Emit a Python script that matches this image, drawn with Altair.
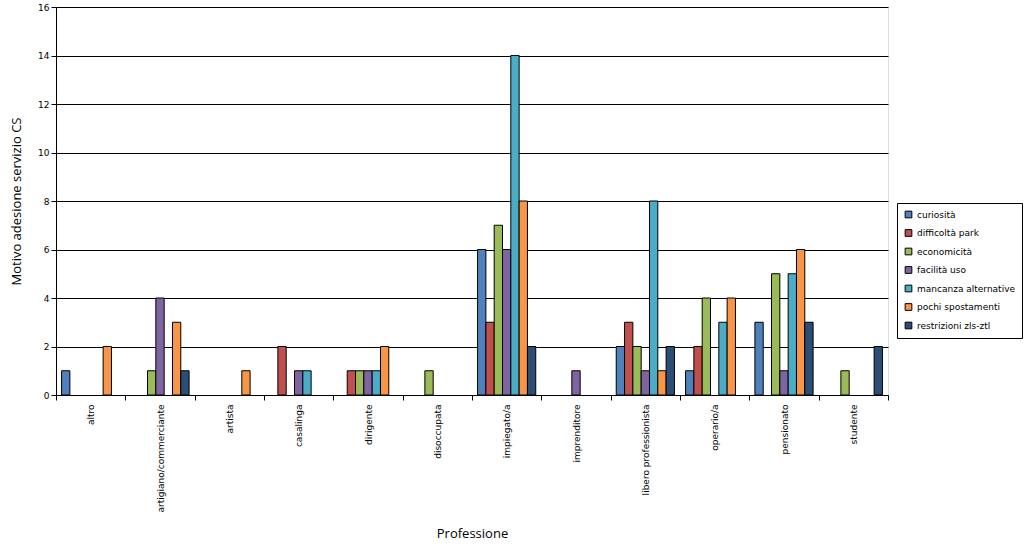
import altair as alt
import pandas as pd

professioni = ["altro", "artigiano/commerciante", "artista", "casalinga", "dirigente",
               "disoccupata", "impiegato/a", "imprenditore", "libero professionista",
               "operario/a", "pensionato", "studente"]
motivi = ["curiosità", "difficoltà park", "economicità", "facilità uso",
          "mancanza alternative", "pochi spostamenti", "restrizioni zls-ztl"]
colori = ["#4F81BD", "#C0504D", "#9BBB59", "#8064A2", "#4BACC6", "#F79646", "#2C4D75"]

curiosita = [1, 0, 0, 0, 0, 0, 6, 0, 2, 1, 3, 0]
difficolta_park = [0, 0, 0, 2, 1, 0, 3, 0, 3, 2, 0, 0]
economicita = [0, 1, 0, 0, 1, 1, 7, 0, 2, 4, 5, 1]
facilita_uso = [0, 4, 0, 1, 1, 0, 6, 1, 1, 0, 1, 0]
mancanza_alternative = [0, 0, 0, 1, 1, 0, 14, 0, 8, 3, 5, 0]
pochi_spostamenti = [2, 3, 1, 0, 2, 0, 8, 0, 1, 4, 6, 0]
restrizioni = [0, 1, 0, 0, 0, 0, 2, 0, 2, 0, 3, 2]

serie = [curiosita, difficolta_park, economicita, facilita_uso,
         mancanza_alternative, pochi_spostamenti, restrizioni]

rows = []
for m, vals in zip(motivi, serie):
    for p, v in zip(professioni, vals):
        if v > 0:
            rows.append({"Professione": p, "Motivo": m, "Valore": v})
df = pd.DataFrame(rows)

chart = alt.Chart(df).mark_bar(stroke="black", strokeWidth=1).encode(
    x=alt.X("Professione:N",
            scale=alt.Scale(domain=professioni, paddingInner=0, paddingOuter=0),
            axis=alt.Axis(title="Professione", labelAngle=-90, tickBand="extent",
                          labelFont="DejaVu Sans", labelFontSize=9, labelColor="black",
                          labelPadding=4, tickColor="black", tickSize=5,
                          domainColor="black",
                          titleFont="Open Sans", titleFontSize=13, titleFontWeight="normal",
                          titleColor="black", titleBaseline="middle", titleY=138)),
    xOffset=alt.XOffset("Motivo:N",
                        scale=alt.Scale(domain=motivi, paddingInner=0, paddingOuter=0.67)),
    y=alt.Y("Valore:Q",
            scale=alt.Scale(domain=[0, 16]),
            axis=alt.Axis(title="Motivo adesione servizio CS", values=list(range(0, 17, 2)),
                          labelFont="DejaVu Sans", labelFontSize=9, labelColor="black",
                          labelPadding=2, tickColor="black", tickSize=5,
                          domainColor="black", gridColor="black", gridWidth=1,
                          titleFont="Open Sans", titleFontSize=13, titleFontWeight="normal",
                          titleColor="black", titlePadding=14)),
    color=alt.Color("Motivo:N",
                    scale=alt.Scale(domain=motivi, range=colori),
                    legend=alt.Legend(title=None, orient="none", legendX=841, legendY=196,
                                      symbolType="square", symbolSize=45,
                                      symbolStrokeColor="black", symbolStrokeWidth=1,
                                      labelFont="DejaVu Sans", labelFontSize=9,
                                      labelColor="black", rowPadding=7.5, labelOffset=4,
                                      padding=7, strokeColor="black", fillColor="white")),
).properties(
    width=832, height=388,
    autosize=alt.AutoSizeParams(type="none"),
    padding={"left": 56, "top": 7, "right": 136, "bottom": 160},
).configure_view(
    fill="#E3E3E3", stroke="#888888"
).configure(background="white")

chart.save("out.html", embed_options={"renderer": "svg", "actions": False})
